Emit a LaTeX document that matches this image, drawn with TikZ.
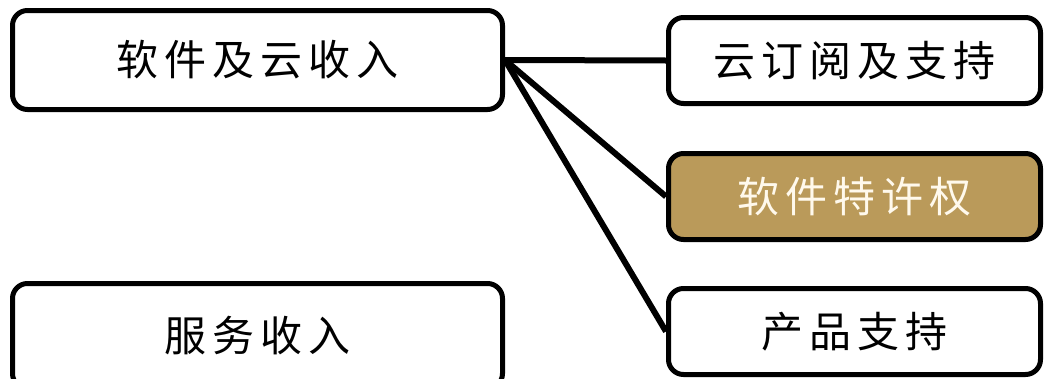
\documentclass[tikz,border=0pt]{standalone}
\usepackage{fontspec}
\newfontfamily\cjk[LetterSpace=14]{Noto Sans CJK SC}
\definecolor{tan}{HTML}{BA9A5A}
\definecolor{cream}{HTML}{FFF9EC}
\begin{document}
\begin{tikzpicture}[x=1pt,y=-1pt,
  box/.style={draw=black, line width=5pt, rounded corners=15pt, fill=white,
    inner sep=0pt, font=\cjk\fontsize{42}{46}\selectfont, text=black},
  link/.style={line width=6pt, black}]
\useasboundingbox (0,0) rectangle (1045,378);
\node[box, minimum width=490, minimum height=99] (A) at (257.5,60) {软件及云收入};
\node[box, minimum width=490, minimum height=105] (D) at (257.5,336) {服务收入};
\node[box, minimum width=372, minimum height=86] (B) at (854.5,60.5) {云订阅及支持};
\node[box, minimum width=372, minimum height=86, fill=tan, text=cream] (C) at (854.5,196.5) {软件特许权};
\node[box, minimum width=372, minimum height=86] (E) at (854.5,331.5) {产品支持};
\draw[link] (A.east) -- (B.west);
\draw[link] (A.east) -- (C.west);
\draw[link] (A.east) -- (E.west);
\end{tikzpicture}
\end{document}
